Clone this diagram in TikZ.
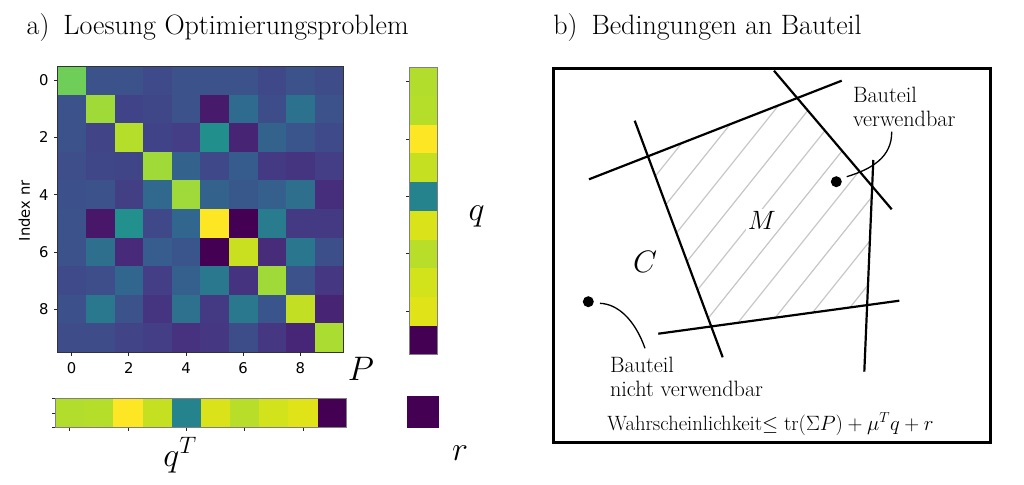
\RequirePackage{fix-cm}
\documentclass[tikz,border=0pt]{standalone}
\usepackage{fontspec}
\newfontfamily\dejavu{DejaVu Sans}
\begin{document}
\begin{tikzpicture}[x=1pt,y=-1pt,
  every node/.style={inner sep=0pt, outer sep=0pt},
  titletext/.style={anchor=base west, font=\fontsize{28}{33}\selectfont},
  tickmark/.style={line width=0.8pt, black!85},
  ticklabel/.style={font=\dejavu\fontsize{14.8}{17}\selectfont},
  mathlabel/.style={font=\fontsize{34}{40}\selectfont},
  paneltext/.style={font=\fontsize{22.2}{23.2}\selectfont, align=left},
  formtext/.style={font=\fontsize{20.7}{24}\selectfont},
  bound/.style={line width=2.2pt},
  hatchline/.style={draw=black!22, line width=1.2pt},
  axisframe/.style={draw=black!80, line width=0.9pt},
  dot/.style={circle, fill=black, minimum size=11pt},
  leader/.style={line width=1.3pt}
]
\useasboundingbox (0,0) rectangle (1024,484);

% titles
\node[titletext] (ta) at (26.7,35) {a)\enspace Loesung Optimierungsproblem};
\node[titletext] (tb) at (553.3,35) {b)\enspace Bedingungen an Bauteil};

% heatmap P
\foreach \row [count=\i from 0] in {
 {6ece58,3b528b,3b528b,3f4a8a,3b528b,3b528b,3b528b,3f4889,3b528b,3e4c8a},
 {3b528b,a0da39,404387,3f4788,3b528b,481a6c,2f6b8e,3d4d8a,2c728e,3b528b},
 {3b528b,414487,b5de2b,404387,433e85,21908d,482475,33628d,3a548c,3e4a89},
 {3d4e8a,3f4788,404588,a0da39,33638d,3f4889,365c8d,443983,453581,433e85},
 {3c508b,3b528b,423f85,31688e,9fda3a,33638d,38588c,35608d,2e6f8e,472e7c},
 {3b528b,481769,22908d,3f4889,31678e,fde725,440154,297b8e,443983,443a83},
 {3b528b,2e6f8e,472a7a,365d8d,3a548c,440154,c8e020,472c7a,2a768e,3c4f8a},
 {3f4a8a,3d4e8a,31678e,433e85,355f8d,2a788e,46337f,a0da39,3b528b,453781},
 {3c508b,2a788e,3b528b,453581,2d718e,443983,2a788e,3a548c,c2df23,482475},
 {3e4c8a,3e4c8a,414487,433e85,46327e,453781,3d4d8a,453781,482677,aadc32}} {
  \foreach \c [count=\j from 0] in \row {
    \edef\tmpdef{\noexpand\definecolor{cellc}{HTML}{\c}}\tmpdef
    \fill[cellc] ({57.3+28.6*\j},{66+28.6*\i}) rectangle ++(28.9,28.9);
  }
}
\draw[axisframe] (57.3,66) rectangle (343.3,352);
\foreach \i in {0,2,4,6,8} {
  \draw[tickmark] (57.3,{80.3+28.6*\i}) -- ++(-3.5,0);
  \draw[tickmark] ({71.6+28.6*\i},352) -- ++(0,3.5);
  \node[ticklabel, anchor=east] (yt\i) at (48.5,{80.3+28.6*\i}) {\i};
  \node[ticklabel, anchor=north] (xt\i) at ({71.6+28.6*\i},363) {\i};
}
\node[ticklabel, rotate=90] (ylab) at (24.3,210.8) {Index nr};
\node[mathlabel] (P) at (361,369) {$P$};

% vector q
\foreach \c [count=\i from 0] in {b2dd2d,b5de2b,fde725,c5e021,25838e,dae319,b8de29,d2e21b,dfe318,440154} {
  \edef\tmpdef{\noexpand\definecolor{cellc}{HTML}{\c}}\tmpdef
  \fill[cellc] (409,{67.3+28.7*\i}) rectangle ++(28.7,29);
  \fill[cellc] ({55+29.17*\i},398.3) rectangle ++(29.4,29.4);
}
\draw[axisframe, draw=black!50, line width=0.6pt] (409,67.3) rectangle (437.7,354);
\draw[axisframe, draw=black!50, line width=0.6pt] (55,398.3) rectangle (346.7,427.7);
\foreach \i in {0,2,4,6,8} {
  \draw[tickmark] (409,{81.6+28.7*\i}) -- ++(-3.5,0);
  \draw[tickmark] ({69.6+29.17*\i},427.7) -- ++(0,3.5);
}
\foreach \yy in {398.3,413,427.7} {
  \draw[tickmark] (55,\yy) -- ++(-3.5,0);
}
\definecolor{rcol}{HTML}{440154}
\fill[rcol] (407,396) rectangle (439,428);
\node[mathlabel] (q) at (476.7,216.7) {$q$};
\node[mathlabel] (qT) at (180,455) {$q^T$};
\node[mathlabel] (r) at (460,453) {$r$};

% panel b
\draw[line width=2.5pt] (553.3,68.3) rectangle (990.7,442.3);
\coordinate (l1a) at (589,179.3);   \coordinate (l1b) at (841.7,80.7);
\coordinate (l2a) at (774,70.7);    \coordinate (l2b) at (891.7,209.3);
\coordinate (l3a) at (634.7,120.7); \coordinate (l3b) at (722.7,357.3);
\coordinate (l4a) at (658.3,333.7); \coordinate (l4b) at (899.3,300.7);
\coordinate (l5a) at (873.3,160);   \coordinate (l5b) at (864.3,371.7);
\coordinate (v1) at (intersection of l1a--l1b and l3a--l3b);
\coordinate (v2) at (intersection of l1a--l1b and l2a--l2b);
\coordinate (v3) at (intersection of l2a--l2b and l5a--l5b);
\coordinate (v4) at (intersection of l5a--l5b and l4a--l4b);
\coordinate (v5) at (intersection of l4a--l4b and l3a--l3b);
\begin{scope}
  \clip (v1) -- (v2) -- (v3) -- (v4) -- (v5) -- cycle;
  \foreach \k in {-8,...,6} {
    \pgfmathsetmacro\cc{962.8+33.3*\k}
    \draw[hatchline] ({\cc-0.80*40},40) -- ({\cc-0.80*400},400);
  }
\end{scope}
\draw[bound] (l1a) -- (l1b);
\draw[bound] (l2a) -- (l2b);
\draw[bound] (l3a) -- (l3b);
\draw[bound] (l4a) -- (l4b);
\draw[bound] (l5a) -- (l5b);

\node[fill=white, inner sep=1.5pt, font=\fontsize{26.5}{30}\selectfont] (M) at (761.7,220) {$M$};
\node[font=\fontsize{31}{36}\selectfont] (C) at (645,261.7) {$C$};

\node[dot] (d1) at (836.3,181.7) {};
\node[dot] (d2) at (588.3,301.7) {};
\coordinate (c1s) at (846.7,176.7); \coordinate (c1e) at (891.7,131.7);
\coordinate (c2s) at (600,303.3);   \coordinate (c2e) at (645,348.3);
\draw[leader] (c1s) .. controls (872,169) and (892,157) .. (c1e);
\draw[leader] (c2s) .. controls (618,304) and (635,320) .. (c2e);

\node[paneltext, anchor=north west] (lab1) at (853,87.5) {Bauteil\\verwendbar};
\node[paneltext, anchor=north west] (lab2) at (610,357.5) {Bauteil\\nicht verwendbar};
\node[formtext, anchor=base] (form) at (770.5,430) {Wahrscheinlichkeit$\leq \mathrm{tr}(\Sigma P) + \mu^T q + r$};
\end{tikzpicture}
\end{document}
